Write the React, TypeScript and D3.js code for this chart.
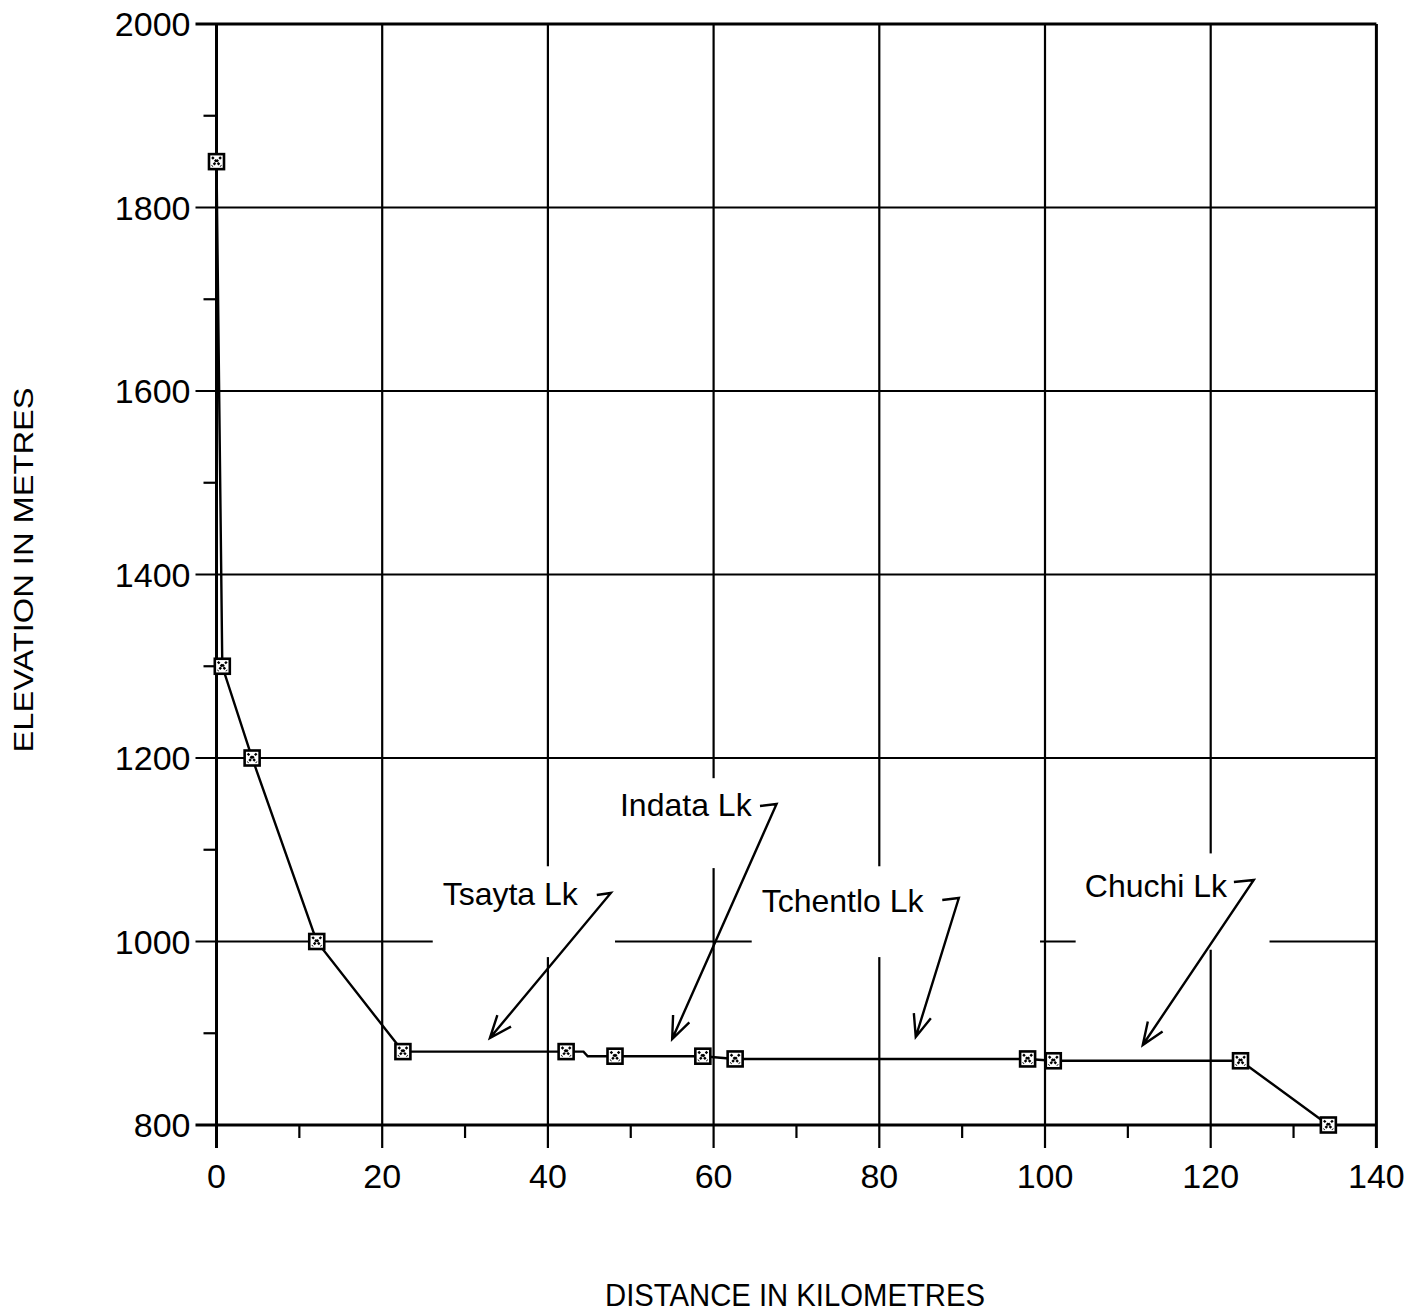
import { line, scaleLinear } from 'd3'

// station profile (km downstream, elevation m)
const stationKm = [0, 0.7, 4.3, 12.1, 22.5, 42.2, 48.1, 58.7, 62.6, 97.9, 101.0, 123.6, 134.2]
const stationM = [1850, 1300, 1200, 1000, 880, 880, 875, 875, 872, 872, 870, 870, 800]
// the drawn profile has a small step below Tsayta Lk
const profileKm = [0, 0.7, 4.3, 12.1, 22.5, 42.2, 44.3, 44.8, 48.1, 58.7, 62.6, 97.9, 101.0, 123.6, 134.2]
const profileM = [1850, 1300, 1200, 1000, 880, 880, 880, 875, 875, 875, 872, 872, 870, 870, 800]

const xTicks = [0, 20, 40, 60, 80, 100, 120, 140]
const xMinor = [10, 30, 50, 70, 90, 110, 130]
const yTicks = [800, 1000, 1200, 1400, 1600, 1800, 2000]
const yMinor = [900, 1100, 1300, 1500, 1700, 1900]

const lakes = ['Tsayta Lk', 'Indata Lk', 'Tchentlo Lk', 'Chuchi Lk']
const labelAt = [[27.3, 1039.8], [48.7, 1136.8], [65.8, 1032.2], [104.8, 1048.5]]
const hookFrom = [[45.9, 1050.7], [65.6, 1147.7], [87.6, 1045.2], [122.8, 1064.9]]
const hookCorner = [[47.6, 1052.9], [67.6, 1149.9], [89.6, 1047.4], [125.2, 1067.0]]
const arrowTip = [[33.0, 894.8], [55.0, 893.7], [84.4, 895.9], [111.8, 887.2]]
// white label panels that break the grid [km0, km1, m0, m1]
const panels = [[26.1, 48.1, 983, 1082], [47.5, 68.6, 1080, 1178], [64.6, 99.4, 983, 1082], [103.7, 127.1, 991, 1096]]

const font = '"Liberation Sans", Arial, sans-serif'

const App = () => {
    const x = scaleLinear().domain([0, 140]).range([216.5, 1376.4])
    const y = scaleLinear().domain([800, 2000]).range([1125, 24])

    const path = line<number>()
        .x(i => x(profileKm[i]))
        .y(i => y(profileM[i]))(profileKm.map((_, i) => i))

    const box = 15

    return (
        <svg width={1426} height={1315} style={{ position: 'absolute', left: 0, top: 0, background: '#fff' }}
            fontFamily={font}>
            <rect width={1426} height={1315} fill="#fff" />

            {/* horizontal grid */}
            {yTicks.map(t => (
                <line key={'h' + t} x1={x(0) - 21} x2={x(140)} y1={y(t)} y2={y(t)}
                    stroke="#000" strokeWidth={t === 800 || t === 2000 ? 2.8 : 2.2} />
            ))}
            {/* vertical grid */}
            {xTicks.map(t => (
                <line key={'v' + t} x1={x(t)} x2={x(t)} y1={y(2000)} y2={y(800) + 23}
                    stroke="#000" strokeWidth={t === 0 || t === 140 ? 3 : 2.2} />
            ))}
            {xMinor.map(t => (
                <line key={'xm' + t} x1={x(t)} x2={x(t)} y1={y(800)} y2={y(800) + 13} stroke="#000" strokeWidth={2.2} />
            ))}
            {yMinor.map(t => (
                <line key={'ym' + t} x1={x(0) - 13} x2={x(0)} y1={y(t)} y2={y(t)} stroke="#000" strokeWidth={2.2} />
            ))}

            {panels.map((p, i) => (
                <rect key={'p' + i} x={x(p[0])} y={y(p[3])} width={x(p[1]) - x(p[0])} height={y(p[2]) - y(p[3])} fill="#fff" />
            ))}

            {/* tick labels */}
            {yTicks.map(t => (
                <text key={'yl' + t} x={x(0) - 26} y={y(t)} dy="0.36em" textAnchor="end" fontSize={34}>{t}</text>
            ))}
            {xTicks.map(t => (
                <text key={'xl' + t} x={x(t)} y={1188} textAnchor="middle" fontSize={34}>{t}</text>
            ))}

            {/* profile */}
            <path d={path ?? ''} fill="none" stroke="#000" strokeWidth={2.4} />
            {stationKm.map((d, i) => {
                const cx = x(d), cy = y(stationM[i])
                const h = box / 2
                return (
                    <g key={'s' + i}>
                        <rect x={cx - h} y={cy - h} width={box} height={box} fill="#fff" stroke="#000" strokeWidth={2.6} />
                        <path d={`M${cx - h + 3},${cy - h + 3}L${cx + h - 3},${cy + h - 3}M${cx + h - 3},${cy - h + 3}L${cx - h + 3},${cy + h - 3}`}
                            stroke="#000" strokeWidth={2.4} strokeDasharray="2.5 1.5" />
                    </g>
                )
            })}

            {/* lake annotations */}
            {lakes.map((name, i) => {
                const [fx, fy] = [x(hookFrom[i][0]), y(hookFrom[i][1])]
                const [cx, cy] = [x(hookCorner[i][0]), y(hookCorner[i][1])]
                const [tx, ty] = [x(arrowTip[i][0]), y(arrowTip[i][1])]
                const ang = Math.atan2(cy - ty, cx - tx)
                const len = 24, spread = 0.38
                const b1 = [tx + len * Math.cos(ang + spread), ty + len * Math.sin(ang + spread)]
                const b2 = [tx + len * Math.cos(ang - spread), ty + len * Math.sin(ang - spread)]
                return (
                    <g key={name}>
                        <text x={x(labelAt[i][0])} y={y(labelAt[i][1])} fontSize={32}>{name}</text>
                        <path d={`M${fx},${fy}L${cx},${cy}L${tx},${ty}M${b1[0]},${b1[1]}L${tx},${ty}L${b2[0]},${b2[1]}`}
                            fill="none" stroke="#000" strokeWidth={2.4} />
                    </g>
                )
            })}

            {/* axis titles */}
            <text x={795} y={1306} textAnchor="middle" fontSize={32} textLength={380} lengthAdjust="spacingAndGlyphs">
                DISTANCE IN KILOMETRES
            </text>
            <text transform="translate(33,570) rotate(-90)" textAnchor="middle" fontSize={28} textLength={365}
                lengthAdjust="spacingAndGlyphs">
                ELEVATION IN METRES
            </text>
        </svg>
    )
}

export default App
